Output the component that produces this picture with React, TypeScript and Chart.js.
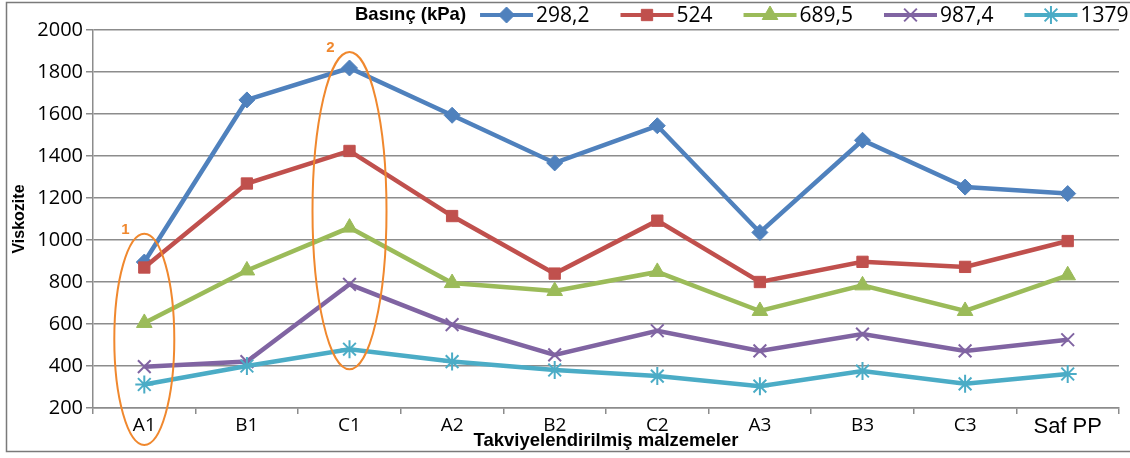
import React, { useEffect, useRef } from 'react';
import { Chart, registerables } from 'chart.js';
import { drawPoint } from 'chart.js/helpers';

Chart.register(...registerables);

const categories = ['A1', 'B1', 'C1', 'A2', 'B2', 'C2', 'A3', 'B3', 'C3', 'Saf PP'];
const legendTitle = 'Basınç (kPa)';
const xTitle = 'Takviyelendirilmiş malzemeler';
const yTitle = 'Viskozite';
const seriesNames = ['298,2', '524', '689,5', '987,4', '1379'];
const s298 = [895, 1667, 1819, 1594, 1367, 1544, 1036, 1475, 1252, 1221];
const s524 = [869, 1269, 1424, 1114, 840, 1092, 800, 896, 872, 995];
const s689 = [605, 855, 1059, 795, 757, 848, 662, 784, 662, 832];
const s987 = [397, 421, 789, 597, 453, 568, 472, 552, 472, 525];
const s1379 = [312, 400, 480, 421, 381, 352, 304, 376, 315, 362];
const yMin = 200;
const yMax = 2000;
const yStep = 200;

const colors = ['#4F81BD', '#C0504D', '#9BBB59', '#8064A2', '#4BACC6'];
const pointStyles = ['rectRot', 'rect', 'triangle', 'crossRot', 'star'];
const pointRadii = [8, 8, 9, 9, 9];
const pointBorders = [1, 1, 1, 2, 2];

// annotation ellipses: category index, top value, bottom value, half width (px)
const ellipseLabels = ['1', '2'];
const ellipseIndex = [0, 2];
const ellipseTop = [1030, 1895];
const ellipseBottom = [24, 384];
const ellipseHalfW = [30, 37];

const allSeries = [s298, s524, s689, s987, s1379];

const framePlugin = {
  id: 'frame',
  beforeDraw(chart: any) {
    const ctx = chart.ctx;
    ctx.save();
    ctx.fillStyle = '#ffffff';
    ctx.fillRect(0, 0, chart.width, chart.height);
    ctx.strokeStyle = '#7a7a7a';
    ctx.lineWidth = 1.5;
    ctx.strokeRect(6.5, 2.5, chart.width + 10, 449);
    ctx.restore();
  },
};

const ellipsePlugin = {
  id: 'ellipses',
  afterDatasetsDraw(chart: any) {
    const ctx = chart.ctx;
    const xs = chart.scales.x;
    const ys = chart.scales.y;
    ctx.save();
    ellipseLabels.forEach((lab, i) => {
      const cx = xs.getPixelForValue(ellipseIndex[i]);
      const top = ys.getPixelForValue(ellipseTop[i]);
      const bot = ys.getPixelForValue(ellipseBottom[i]);
      const cy = (top + bot) / 2;
      const ry = (bot - top) / 2;
      ctx.beginPath();
      ctx.ellipse(cx, cy, ellipseHalfW[i], ry, 0, 0, Math.PI * 2);
      ctx.strokeStyle = '#F0882E';
      ctx.lineWidth = 2;
      ctx.stroke();
      ctx.fillStyle = '#F0882E';
      ctx.font = 'bold 15px "Liberation Sans", Arial, sans-serif';
      ctx.textAlign = 'center';
      ctx.textBaseline = 'middle';
      ctx.fillText(lab, cx - 19, top - 4);
    });
    ctx.restore();
  },
};

const legendPlugin = {
  id: 'customLegend',
  afterDraw(chart: any) {
    const ctx = chart.ctx;
    const y = 15;
    ctx.save();
    ctx.textBaseline = 'middle';
    ctx.textAlign = 'left';
    ctx.fillStyle = '#000';
    ctx.font = 'bold 18.5px "Liberation Sans", Arial, sans-serif';
    let x = 355;
    ctx.fillText(legendTitle, x, y);
    x += ctx.measureText(legendTitle).width + 14;
    chart.data.datasets.forEach((ds: any, i: number) => {
      const lineLen = 53;
      ctx.strokeStyle = ds.borderColor;
      ctx.lineWidth = 4;
      ctx.beginPath();
      ctx.moveTo(x, y);
      ctx.lineTo(x + lineLen, y);
      ctx.stroke();
      ctx.fillStyle = ds.borderColor;
      ctx.strokeStyle = ds.borderColor;
      ctx.lineWidth = ds.pointBorderWidth;
      drawPoint(ctx, { pointStyle: ds.pointStyle, radius: ds.pointRadius, rotation: 0, borderWidth: ds.pointBorderWidth }, x + lineLen / 2, y);
      x += lineLen + 3;
      ctx.fillStyle = '#000';
      ctx.font = '21px "Open Sans", sans-serif';
      ctx.fillText(ds.label, x, y + 1);
      x += ctx.measureText(ds.label).width + 31;
    });
    ctx.restore();
  },
};

export default function App() {
  const ref = useRef<HTMLCanvasElement | null>(null);
  useEffect(() => {
    if (!ref.current) return;
    const datasets = allSeries.map((data, i) => ({
      label: seriesNames[i],
      data,
      borderColor: colors[i],
      backgroundColor: colors[i],
      pointBackgroundColor: colors[i],
      pointBorderColor: colors[i],
      pointStyle: pointStyles[i],
      pointRadius: pointRadii[i],
      pointBorderWidth: pointBorders[i],
      borderWidth: 4.5,
      tension: 0,
      order: 4 - i,
    }));
    const gridColor = '#8c8c8c';
    const chart = new Chart(ref.current, {
      type: 'line',
      data: { labels: categories, datasets },
      options: {
        responsive: false,
        animation: false,
        devicePixelRatio: 1,
        layout: { padding: { top: 30, right: 1, left: 0, bottom: 0 } },
        plugins: { legend: { display: false }, tooltip: { enabled: false } },
        scales: {
          x: {
            type: 'category',
            offset: true,
            afterFit: (s: any) => { s.height = 50; },
            grid: { display: true, drawOnChartArea: false, drawTicks: true, tickLength: 6, color: gridColor, lineWidth: 1.5, offset: true },
            border: { display: true, color: gridColor, width: 1.5 },
            ticks: {
              padding: 0,
              color: '#000',
              maxRotation: 0,
              autoSkip: false,
              font: (c: any) => c.index === 9
                ? { family: '"Liberation Sans", Arial, sans-serif', size: 22 }
                : { family: '"Open Sans", sans-serif', size: 19 },
            },
            title: {
              display: true,
              text: xTitle,
              color: '#000',
              font: { family: '"Liberation Sans", Arial, sans-serif', size: 18.5, weight: 'bold' },
              padding: { top: 0, bottom: 6 },
            },
          },
          y: {
            min: yMin,
            max: yMax,
            afterFit: (s: any) => { s.width = 93; },
            grid: { color: gridColor, lineWidth: 1.5, tickLength: 7 },
            border: { display: true, color: gridColor, width: 1.5 },
            ticks: {
              stepSize: yStep,
              padding: 3,
              color: '#000',
              callback: (v: any) => String(v),
              font: { family: '"Open Sans", sans-serif', size: 20 },
            },
            title: {
              display: true,
              text: yTitle,
              color: '#000',
              font: { family: '"Liberation Sans", Arial, sans-serif', size: 16, weight: 'bold' },
              padding: { top: 10, bottom: 0 },
            },
          },
        },
      },
      plugins: [framePlugin, ellipsePlugin, legendPlugin],
    } as any);
    return () => chart.destroy();
  }, []);
  return (
    <div style={{ position: 'absolute', left: 0, top: 0, width: 1130, height: 458 }}>
      <canvas ref={ref} width={1130} height={458} style={{ display: 'block' }} />
    </div>
  );
}
